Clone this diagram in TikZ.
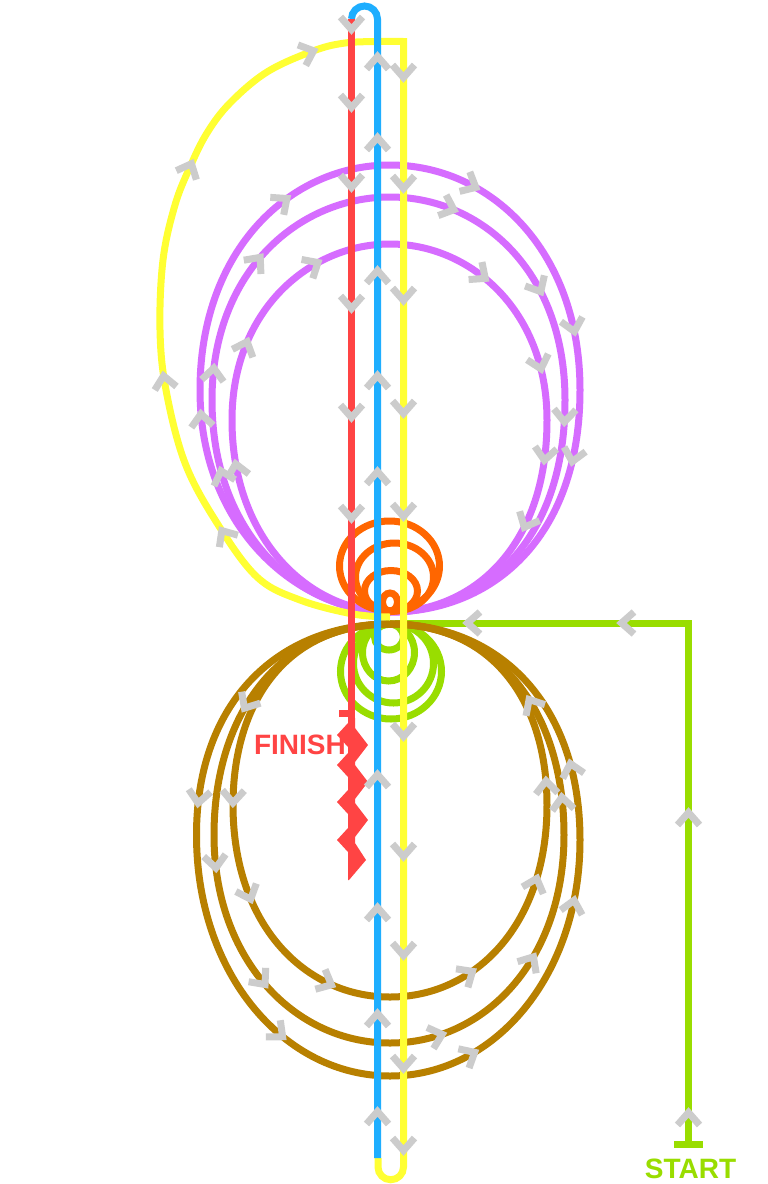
\documentclass[tikz,border=0pt]{standalone}
\usepackage{fontspec}
\setmainfont{Liberation Sans}
\usetikzlibrary{decorations.markings}
\definecolor{cred}{HTML}{FF4444}
\definecolor{cblue}{HTML}{1EAEFF}
\definecolor{cyel}{HTML}{FFFF33}
\definecolor{cpur}{HTML}{D66CFF}
\definecolor{corg}{HTML}{FF6600}
\definecolor{cgrn}{HTML}{99DD00}
\definecolor{cbrn}{HTML}{B88000}
\definecolor{cgry}{HTML}{CCCCCC}
\tikzset{
  trk/.style={line width=7pt, line join=miter},
  chev/.style={draw=cgry, line width=7pt, line join=miter, line cap=butt},
  marks/.style={postaction={decorate, decoration={markings, #1}}},
  lbl/.style={inner sep=0pt, font=\bfseries\fontsize{28}{28}\selectfont},
}
\newcommand\chevshape{\draw[chev] (-7,-11) -- (5.5,0) -- (-7,11);}
\newcommand\chv[3]{\draw[chev, shift={(#1,#2)}, rotate=#3] (-7,-11) -- (5.5,0) -- (-7,11);}
\def\purO{(390,612) .. controls (300,612) and (200,530) .. (200,390) .. controls (200,250) and (290,165) .. (390,165) .. controls (490,165) and (580,250) .. (580,390) .. controls (580,540) and (490,612) .. (390,612)}
\def\purM{(390,612) .. controls (300,612) and (212,535) .. (212,400) .. controls (212,270) and (300,197) .. (390,197) .. controls (480,197) and (565,270) .. (565,400) .. controls (565,545) and (480,612) .. (390,612)}
\def\purI{(390,612) .. controls (310,612) and (232,540) .. (232,420) .. controls (232,310) and (310,244) .. (390,244) .. controls (470,244) and (547,310) .. (547,420) .. controls (547,550) and (470,612) .. (390,612)}
\def\brnO{(390,624) .. controls (280,624) and (196.5,700) .. (196.5,835) .. controls (196.5,975) and (285,1076) .. (390,1076) .. controls (495,1076) and (580,975) .. (580,840) .. controls (580,705) and (500,624) .. (390,624)}
\def\brnM{(390,624) .. controls (282,624) and (214,712) .. (214,835) .. controls (214,960) and (295,1043) .. (390,1043) .. controls (485,1043) and (564,960) .. (564,835) .. controls (564,712) and (498,624) .. (390,624)}
\def\brnI{(390,624) .. controls (284,624) and (233,705) .. (233,805) .. controls (233,925) and (305,997) .. (390,997) .. controls (475,997) and (547,925) .. (547,805) .. controls (547,705) and (496,624) .. (390,624)}
\def\yelArc{plot[smooth, tension=0.6] coordinates {(390,617) (353,614) (300,600) (257,577) (217,523) (185,463) (166,390) (160,330) (163,260) (175,205) (190,167) (207,133) (230,103) (267,72) (313,51) (345,43) (380,41.5) (403.5,41.5)}}
\begin{document}
\begin{tikzpicture}[x=1pt, y=1pt, yscale=-1]
\useasboundingbox (0,0) rectangle (768,1184);
\fill[white] (0,0) rectangle (768,1184);
% green start line and rings
\coordinate (startbar) at (688.5,1144.5);
\coordinate (gcorner) at (688.5,623);
\coordinate (gend) at (395,623);
\draw[trk, cgrn] (674,1144.5) -- (703,1144.5);
\draw[trk, cgrn] (startbar) -- (gcorner) -- (gend);
\draw[trk, cgrn] (391,671.5) ellipse[x radius=50.5, y radius=47.5];
\draw[trk, cgrn] (393.5,663.5) ellipse[x radius=40, y radius=39.5];
\draw[trk, cgrn] (388.5,652.5) ellipse[x radius=26, y radius=28.5];
\draw[trk, cgrn] (389,637) ellipse[x radius=14.5, y radius=13];
% purple loops
\draw[trk, cpur] \purO;
\draw[trk, cpur] \purM;
\draw[trk, cpur] \purI;
% brown loops
\draw[trk, cbrn] \brnO;
\draw[trk, cbrn] \brnM;
\draw[trk, cbrn] \brnI;
% orange rings
\draw[trk, corg] (389.5,566) ellipse[x radius=50, y radius=45];
\draw[trk, corg] (394.5,577) ellipse[x radius=39, y radius=34];
\draw[trk, corg] (391,591) ellipse[x radius=26.5, y radius=20.5];
\draw[trk, corg] (390,602) ellipse[x radius=7.5, y radius=9];
% yellow
\draw[trk, cyel] \yelArc -- (403.5,1167) arc[start angle=0, end angle=180, radius=12.75] -- (378,1158);
% blue
\coordinate (bbot) at (377.5,1158);
\coordinate (btop) at (377.5,19);
\draw[trk, cblue] (bbot) -- (btop) arc[start angle=0, end angle=-180, radius=13];
% red
\coordinate (rtop) at (351.5,19);
\coordinate (rbot) at (351.5,872);
\draw[trk, cred] (rtop) -- (rbot);
\draw[trk, cred] (339,713.5) -- (352,713.5);
\fill[cred] (348,718) -- (355,718) -- (355,728) -- (368,745) -- (355,762) -- (355,765) -- (368,782) -- (355,799) -- (355,803) -- (368,820) -- (355,837) -- (355,843) -- (366,860) -- (349,880) -- (348,880) -- (348,852) -- (337,840) -- (348,828) -- (348,814) -- (337,802) -- (348,790) -- (348,777) -- (337,765) -- (348,753) -- (348,747) -- (337,735) -- (348,723) -- cycle;
% chevrons on curves
\path[marks={mark=at position 0.225 with {\chevshape}, mark=at position 0.41 with {\chevshape}, mark=at position 0.5625 with {\chevshape}, mark=at position 0.70 with {\chevshape}, mark=at position 0.80 with {\chevshape}}] \purO;
\path[marks={mark=at position 0.19 with {\chevshape}, mark=at position 0.275 with {\chevshape}, mark=at position 0.375 with {\chevshape}, mark=at position 0.55 with {\chevshape}, mark=at position 0.65 with {\chevshape}, mark=at position 0.76 with {\chevshape}}] \purM;
\path[marks={mark=at position 0.21 with {\chevshape}, mark=at position 0.325 with {\chevshape}, mark=at position 0.425 with {\chevshape}, mark=at position 0.59 with {\chevshape}, mark=at position 0.69 with {\chevshape}, mark=at position 0.775 with {\chevshape}, mark=at position 0.84 with {\chevshape}}] \purI;
\path[marks={mark=at position 0.215 with {\chevshape}, mark=at position 0.41 with {\chevshape}, mark=at position 0.565 with {\chevshape}, mark=at position 0.706 with {\chevshape}, mark=at position 0.81 with {\chevshape}}] \brnO;
\path[marks={mark=at position 0.14 with {\chevshape}, mark=at position 0.275 with {\chevshape}, mark=at position 0.38 with {\chevshape}, mark=at position 0.54 with {\chevshape}, mark=at position 0.64 with {\chevshape}, mark=at position 0.775 with {\chevshape}, mark=at position 0.86 with {\chevshape}}] \brnM;
\path[marks={mark=at position 0.24 with {\chevshape}, mark=at position 0.33 with {\chevshape}, mark=at position 0.44 with {\chevshape}, mark=at position 0.575 with {\chevshape}, mark=at position 0.68 with {\chevshape}, mark=at position 0.77 with {\chevshape}}] \brnI;
\path[marks={mark=at position 194pt with {\chevshape}, mark=at position 361pt with {\chevshape}, mark=at position 578pt with {\chevshape}, mark=at position 750pt with {\chevshape}}] \yelArc;
% chevrons on straight lines
\foreach \yy in {24,102,182,303,412,513} {\chv{351.5}{\yy}{90}}
\foreach \yy in {62,143,276,381,477,780,913,1019,1117} {\chv{377.5}{\yy}{-90}}
\foreach \yy in {72,183,295,408,511,731,851,950,1063,1145} {\chv{403.5}{\yy}{90}}
\chv{688.5}{1118}{-90}
\chv{688.5}{818}{-90}
\chv{627}{623}{180}
\chv{473}{623}{180}
% labels
\node[lbl, text=cred, anchor=east] (finish) at (346,745) {FINISH};
\node[lbl, text=cgrn, anchor=center] (start) at (690.5,1168.5) {START};
\end{tikzpicture}
\end{document}
